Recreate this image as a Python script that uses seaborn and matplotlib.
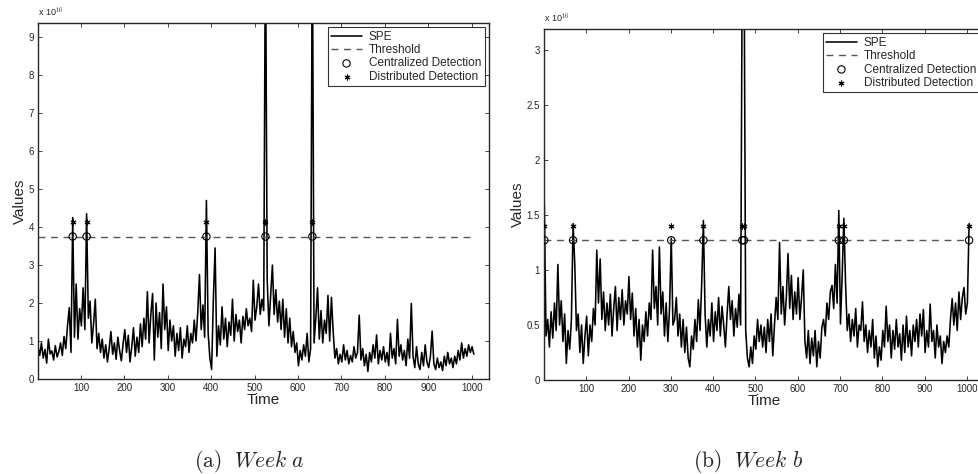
import numpy as np
import pandas as pd
import seaborn as sns
import matplotlib.pyplot as plt

# time axis, one sample every 4 steps
time = np.arange(1, 1006, 4)

# Week a - SPE values (x 1e16)
spe_a = [
    0.85, 0.62, 0.95, 0.55, 0.78, 0.42, 1.05, 0.66, 0.74, 0.50,
    0.88, 0.58, 0.72, 0.95, 0.62, 1.12, 0.80, 1.40, 1.88, 0.70,
    4.25, 1.10, 2.50, 1.05, 1.85, 1.40, 2.40, 1.30, 4.35, 1.60,
    2.05, 0.95, 1.45, 2.10, 0.80, 1.20, 0.70, 1.05, 0.55, 0.90,
    0.45, 0.80, 1.25, 0.65, 0.95, 0.52, 1.10, 0.75, 0.48, 0.92,
    1.30, 0.70, 1.15, 0.45, 0.85, 1.35, 0.60, 1.10, 0.70, 1.45,
    0.85, 1.60, 1.05, 2.30, 0.95, 1.70, 2.25, 0.50, 2.00, 1.10,
    1.75, 0.80, 2.50, 1.30, 1.90, 0.75, 1.55, 1.00, 1.40, 0.60,
    1.20, 0.75, 1.35, 0.55, 1.05, 0.85, 1.40, 0.70, 1.20, 0.95,
    1.55, 1.00, 1.75, 2.75, 1.30, 1.95, 1.10, 4.70, 1.20, 0.55,
    0.25, 2.10, 3.45, 0.60, 1.40, 0.90, 1.90, 1.05, 1.60, 0.85,
    1.50, 1.15, 2.10, 1.00, 1.70, 1.25, 1.55, 0.95, 1.65, 1.30,
    1.85, 1.40, 1.60, 1.25, 2.60, 1.55, 1.90, 2.50, 1.70, 2.10,
    1.80, 12.0, 2.60, 1.40, 2.20, 3.00, 1.70, 2.35, 1.50, 2.05,
    1.30, 2.10, 1.10, 1.85, 0.95, 1.60, 0.85, 1.25, 0.70, 0.95,
    0.35, 0.75, 0.50, 0.90, 0.60, 1.20, 0.45, 0.80, 12.0, 0.95,
    1.60, 2.40, 1.05, 1.80, 0.95, 1.55, 1.20, 2.20, 1.00, 2.15,
    1.25, 0.55, 0.80, 0.40, 0.65, 0.45, 0.90, 0.50, 0.75, 0.40,
    0.62, 0.45, 0.85, 0.55, 0.70, 1.68, 0.50, 0.80, 0.35, 0.65,
    0.20, 0.70, 0.45, 0.90, 0.55, 1.16, 0.40, 0.75, 0.50, 0.85,
    0.45, 0.70, 0.35, 1.20, 0.55, 0.80, 0.40, 1.57, 0.60, 0.90,
    0.50, 0.75, 0.35, 1.05, 0.55, 1.99, 0.60, 0.30, 0.85, 0.40,
    0.25, 0.70, 0.35, 0.90, 0.45, 0.30, 0.60, 1.26, 0.40, 0.25,
    0.55, 0.30, 0.45, 0.22, 0.60, 0.35, 0.70, 0.40, 0.55, 0.30,
    0.60, 0.40, 0.75, 0.50, 0.95, 0.55, 0.80, 0.60, 0.90, 0.70,
    0.85, 0.65,
]

# Week b - SPE values (x 1e16)
spe_b = [
    1.60, 0.40, 0.55, 0.30, 0.62, 0.38, 0.70, 0.45, 1.05, 0.50,
    0.72, 0.35, 0.60, 0.15, 0.45, 0.28, 0.55, 1.42, 1.05, 0.45,
    0.60, 0.25, 0.50, 0.15, 0.40, 0.58, 0.22, 0.50, 0.35, 0.65,
    0.50, 1.18, 0.70, 1.10, 0.55, 0.80, 0.45, 0.70, 0.50, 0.78,
    0.40, 0.65, 0.85, 0.45, 0.75, 0.55, 0.82, 0.50, 0.72, 0.60,
    0.94, 0.55, 0.79, 0.40, 0.65, 0.30, 0.55, 0.18, 0.50, 0.35,
    0.62, 0.40, 0.70, 0.55, 1.18, 0.65, 0.85, 0.50, 1.21, 0.60,
    0.80, 0.40, 0.70, 0.35, 0.65, 1.29, 0.50, 0.55, 0.75, 0.40,
    0.60, 0.30, 0.55, 0.25, 0.48, 0.20, 0.12, 0.40, 0.28, 0.55,
    0.35, 0.73, 0.45, 0.88, 1.45, 0.60, 0.30, 0.55, 0.40, 0.70,
    0.35, 0.62, 0.45, 0.75, 0.40, 0.67, 0.50, 0.30, 0.60, 0.85,
    0.55, 0.72, 0.40, 0.65, 0.48, 0.78, 0.50, 4.00, 4.00, 0.45,
    0.20, 0.12, 0.30, 0.15, 0.40, 0.28, 0.55, 0.35, 0.50, 0.30,
    0.48, 0.25, 0.55, 0.35, 0.60, 0.22, 0.50, 0.75, 0.55, 1.25,
    0.60, 0.85, 0.50, 0.75, 1.15, 0.65, 0.95, 0.55, 0.80, 0.60,
    0.93, 0.55, 0.75, 1.00, 0.35, 0.20, 0.45, 0.15, 0.38, 0.22,
    0.45, 0.12, 0.35, 0.20, 0.48, 0.55, 0.40, 0.70, 0.55, 0.80,
    0.86, 0.65, 1.05, 0.70, 1.54, 0.51, 0.95, 1.47, 0.88, 0.45,
    0.60, 0.35, 0.55, 0.40, 0.65, 0.30, 0.50, 0.45, 0.71, 0.35,
    0.50, 0.25, 0.45, 0.30, 0.55, 0.20, 0.40, 0.12, 0.30, 0.18,
    0.45, 0.30, 0.67, 0.35, 0.50, 0.20, 0.45, 0.28, 0.55, 0.30,
    0.42, 0.18, 0.50, 0.25, 0.58, 0.30, 0.45, 0.22, 0.50, 0.35,
    0.55, 0.30, 0.60, 0.40, 0.64, 0.25, 0.45, 0.30, 0.69, 0.35,
    0.45, 0.20, 0.50, 0.30, 0.40, 0.15, 0.35, 0.25, 0.40, 0.30,
    0.55, 0.74, 0.50, 0.70, 0.45, 0.80, 0.55, 0.75, 0.84, 0.60,
    0.70, 1.42,
]

thr_a = 3.75
thr_b = 1.27
star_a = 4.12
star_b = 1.40
det_a = [81, 113, 389, 525, 633]
det_b = [1, 69, 301, 377, 469, 473, 697, 709, 1005]

yticks_a = [0, 1, 2, 3, 4, 5, 6, 7, 8, 9]
yticks_b = [0, 0.5, 1, 1.5, 2, 2.5, 3]
xticks = [100, 200, 300, 400, 500, 600, 700, 800, 900, 1000]

sns.set_style('ticks')
plt.rcParams['font.family'] = ['Liberation Sans', 'DejaVu Sans']
plt.rcParams['mathtext.fontset'] = 'cm'

fig = plt.figure(figsize=(9.79, 4.74), dpi=100)
ax_a = fig.add_axes([0.0388, 0.2004, 0.4607, 0.7511])
ax_b = fig.add_axes([0.556, 0.1983, 0.449, 0.7405])


def draw(ax, spe, thr, star, det, ylim, yticks, caption, cap_x):
    df = pd.DataFrame({'Time': time, 'Values': spe})
    sns.lineplot(data=df, x='Time', y='Values', ax=ax, color='k', lw=1.15,
                 label='SPE')
    sns.lineplot(x=time, y=np.full(len(time), thr), ax=ax, color='#555555',
                 lw=1.0, linestyle=(0, (5, 4)), label='Threshold')
    sns.scatterplot(x=det, y=[thr] * len(det), ax=ax, marker='o', s=28,
                    facecolors='none', edgecolor='k', linewidth=0.8,
                    label='Centralized Detection', zorder=5)
    sns.scatterplot(x=det, y=[star] * len(det), ax=ax, marker=(6, 2, 0), s=13,
                    color='k', edgecolor='k', linewidth=0.8,
                    label='Distributed Detection', zorder=5)
    ax.set_xlim(1, 1040)
    ax.set_ylim(*ylim)
    ax.set_xticks(xticks)
    ax.set_yticks(yticks)
    ax.set_yticklabels(['%g' % v for v in yticks])
    ax.tick_params(direction='in', top=True, right=True, labelsize=7,
                   length=3, width=0.6, pad=3)
    for s in ax.spines.values():
        s.set_linewidth(1.0)
        s.set_visible(True)
    ax.set_xlabel('Time', fontsize=11, labelpad=0)
    ax.set_ylabel('Values', fontsize=11, labelpad=1)
    ax.text(0, 1.012, r'x 10$^{16}$', transform=ax.transAxes, fontsize=6.5,
            va='bottom', ha='left')
    leg = ax.legend(loc='upper right', fontsize=8.5, frameon=True,
                    fancybox=False, edgecolor='k', borderaxespad=0.35,
                    labelspacing=0.12, handlelength=2.6, handletextpad=0.6,
                    borderpad=0.3)
    leg.get_frame().set_linewidth(0.8)
    fig.text(cap_x, 0.027, caption, ha='center', va='center', fontsize=15.5)


draw(ax_a, spe_a, thr_a, star_a, det_a, (0, 9.37), yticks_a,
     r'$\mathrm{(a)}\ \ Week\ a$', 0.255)
draw(ax_b, spe_b, thr_b, star_b, det_b, (0, 3.19), yticks_b,
     r'$\mathrm{(b)}\ \ Week\ b$', 0.764)

fig.savefig('out.png', dpi=100)
